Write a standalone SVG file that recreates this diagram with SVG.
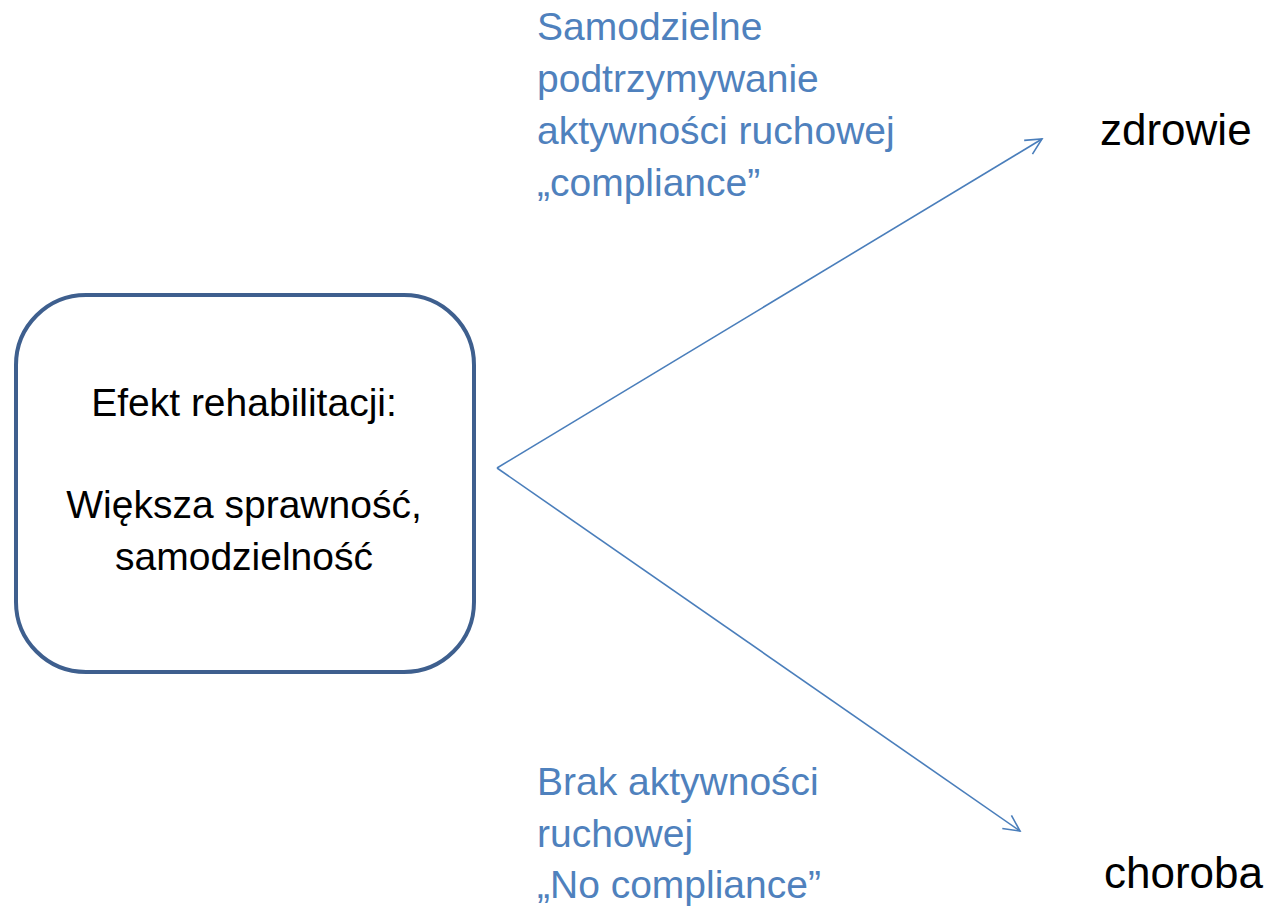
<svg xmlns="http://www.w3.org/2000/svg" width="1269" height="908" viewBox="0 0 1269 908">
<style>
.lbl{font-family:"Liberation Sans",Arial,sans-serif;font-size:39px;fill:#4f81bd}
.blk{font-family:"Liberation Sans",Arial,sans-serif;font-size:39px;fill:#000}
.end{font-family:"Liberation Sans",Arial,sans-serif;font-size:44px;fill:#000}
.conn{stroke:#4a7ebb;stroke-width:1.6;fill:none}
</style>
<defs>
<marker id="arr" viewBox="0 0 20 20" refX="18" refY="10" markerWidth="20" markerHeight="20" markerUnits="userSpaceOnUse" orient="auto">
<path d="M2 2 L18 10 L2 18" fill="none" stroke="#4a7ebb" stroke-width="1.6"/>
</marker>
</defs>
<rect width="1269" height="908" fill="#fff"/>
<g id="box">
<rect x="16" y="295" width="458" height="377" rx="70" ry="70" fill="#fff" stroke="#3e5f8e" stroke-width="4"/>
<text class="blk" x="244" y="416" text-anchor="middle">Efekt rehabilitacji:</text>
<text class="blk" x="244" y="518" text-anchor="middle">Większa sprawność,</text>
<text class="blk" x="244" y="570" text-anchor="middle">samodzielność</text>
</g>
<g id="connectors">
<line class="conn" x1="497" y1="468" x2="1042" y2="139" marker-end="url(#arr)"/>
<line class="conn" x1="497" y1="468" x2="1020" y2="831" marker-end="url(#arr)"/>
</g>
<g id="label-top">
<text class="lbl" x="537" y="40">Samodzielne</text>
<text class="lbl" x="537" y="92">podtrzymywanie</text>
<text class="lbl" x="537" y="144">aktywności ruchowej</text>
<text class="lbl" x="537" y="196">„compliance”</text>
</g>
<g id="label-bottom">
<text class="lbl" x="537" y="795">Brak aktywności</text>
<text class="lbl" x="537" y="847">ruchowej</text>
<text class="lbl" x="537" y="898">„No compliance”</text>
</g>
<g id="zdrowie"><text class="end" x="1100" y="145">zdrowie</text></g>
<g id="choroba"><text class="end" x="1104" y="888">choroba</text></g>
</svg>
